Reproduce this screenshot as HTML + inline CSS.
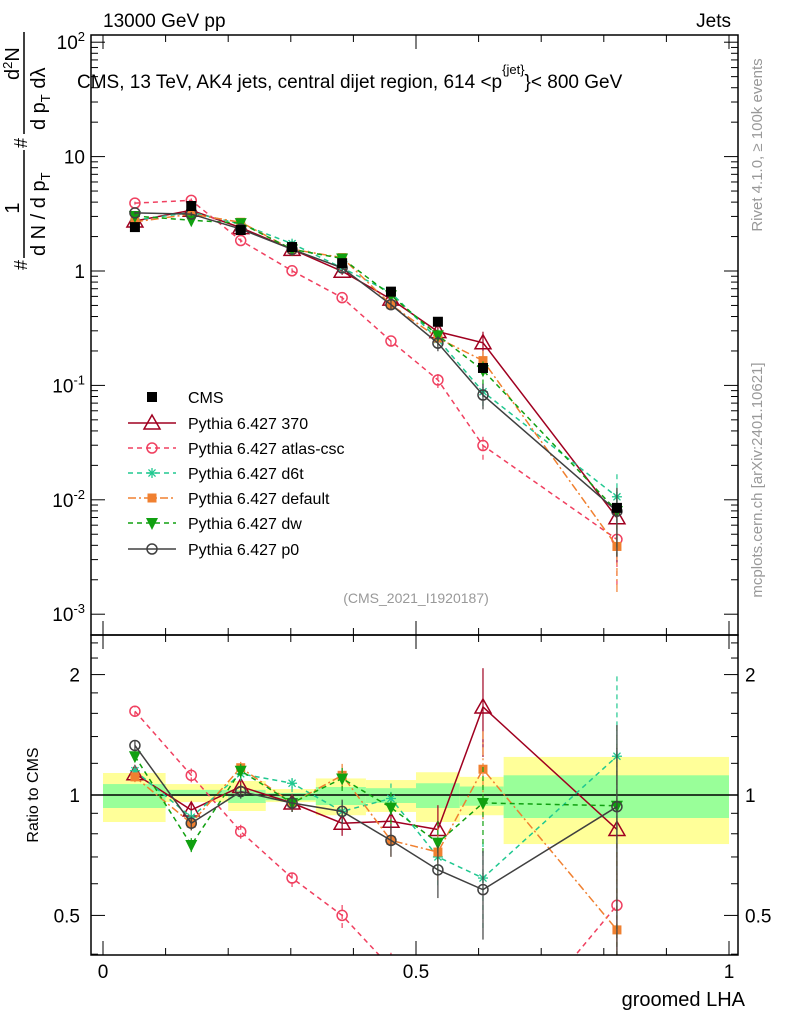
<!DOCTYPE html>
<html><head><meta charset="utf-8"><style>
body{margin:0;background:#fff;overflow:hidden;}
svg{font-family:"Liberation Sans",sans-serif;display:block;}
</style></head><body>
<svg id="c" width="786" height="1024" viewBox="0 0 786 1024" xmlns="http://www.w3.org/2000/svg"></svg>
<script>
const xs=[0.051,0.141,0.220,0.302,0.382,0.460,0.535,0.607,0.821];
const edges=[0,0.1,0.2,0.26,0.34,0.42,0.50,0.57,0.64,1.0];
const cms=[2.42,3.7,2.28,1.62,1.17,0.66,0.36,0.142,0.0085];
const yelHi=[1.135,1.065,1.084,1.035,1.10,1.09,1.14,1.11,1.245];
const yelLo=[0.856,0.96,0.912,0.96,0.89,0.907,0.856,0.89,0.754];
const grnHi=[1.065,1.03,1.03,1.012,1.047,1.04,1.07,1.05,1.12];
const grnLo=[0.928,0.994,0.955,0.97,0.944,0.955,0.928,0.94,0.876];
const r370=[1.13,0.917,1.05,0.955,0.85,0.86,0.82,1.66,0.82];
const rAtlas=[1.62,1.12,0.81,0.62,0.50,0.37,0.31,0.21,0.53];
const rD6t=[1.15,0.88,1.13,1.07,0.91,0.98,0.70,0.62,1.25];
const rDef=[1.11,0.85,1.17,0.955,1.12,0.77,0.72,1.16,0.46];
const rDw=[1.25,0.75,1.15,0.955,1.10,0.93,0.76,0.955,0.94];
const rP0=[1.33,0.85,1.02,0.955,0.91,0.77,0.65,0.58,0.935];
const relErr=[0.03,0.04,0.04,0.05,0.07,0.09,0.15,0.25,0.6];
const series=[
 {name:'Pythia 6.427 370',r:r370,col:'#a00020',dash:'',m:'tri'},
 {name:'Pythia 6.427 atlas-csc',r:rAtlas,col:'#f04060',dash:'5,4',m:'circ'},
 {name:'Pythia 6.427 d6t',r:rD6t,col:'#20c890',dash:'5,4',m:'star'},
 {name:'Pythia 6.427 default',r:rDef,col:'#f08030',dash:'8,3,2,3',m:'sq'},
 {name:'Pythia 6.427 dw',r:rDw,col:'#10a010',dash:'5,4',m:'dtri'},
 {name:'Pythia 6.427 p0',r:rP0,col:'#404040',dash:'',m:'circ'}
];
const NS='http://www.w3.org/2000/svg';
const svg=document.getElementById('c');
const X=v=>103+626*v;
const Y=v=>271-114.4*Math.log10(v);
const R=v=>795-400*Math.log10(v);
function el(t,a,p){const e=document.createElementNS(NS,t);for(const k in a)e.setAttribute(k,a[k]);(p||svg).appendChild(e);return e;}
function txt(x,y,s,a,p){const e=el('text',Object.assign({x:x,y:y},a||{}),p);e.textContent=s;return e;}
const clipM=el('clipPath',{id:'cm'});el('rect',{x:91,y:35,width:647,height:600},clipM);
const clipR=el('clipPath',{id:'cr'});el('rect',{x:91,y:635,width:647,height:320},clipR);
const gb=el('g',{'clip-path':'url(#cr)'});

for(let i=0;i<9;i++){
 const b=el('rect',{x:X(edges[i]),y:R(yelHi[i]),width:X(edges[i+1])-X(edges[i]),height:R(yelLo[i])-R(yelHi[i]),fill:'#ffff99'},gb);
 
 const g=el('rect',{x:X(edges[i]),y:R(grnHi[i]),width:X(edges[i+1])-X(edges[i]),height:R(grnLo[i])-R(grnHi[i]),fill:'#99ff99'},gb);
 
}
el('line',{x1:91,x2:738,y1:R(1),y2:R(1),stroke:'#000','stroke-width':1.5});
function marker(g,m,x,y,col){
 if(m==='tri')el('polygon',{points:`${x},${y-8} ${x-8},${y+6} ${x+8},${y+6}`,fill:'none',stroke:col,'stroke-width':1.5},g);
 else if(m==='dtri')el('polygon',{points:`${x},${y+7} ${x-6},${y-5} ${x+6},${y-5}`,fill:col},g);
 else if(m==='circ')el('circle',{cx:x,cy:y,r:5,fill:'none',stroke:col,'stroke-width':1.5},g);
 else if(m==='sq')el('rect',{x:x-4.5,y:y-4.5,width:9,height:9,fill:col},g);
 else if(m==='bsq')el('rect',{x:x-5,y:y-5,width:10,height:10,fill:col},g);
 else if(m==='star'){for(const a of [0,45,90,135]){const r=a*Math.PI/180;el('line',{x1:x-5*Math.cos(r),y1:y-5*Math.sin(r),x2:x+5*Math.cos(r),y2:y+5*Math.sin(r),stroke:col,'stroke-width':1.3},g);}}
}
series.forEach(s=>{
 const vals=s.r.map((r,i)=>r*cms[i]);
 const g=el('g',{'clip-path':'url(#cm)'});
 
 el('polyline',{points:xs.map((x,i)=>X(x)+','+Y(vals[i])).join(' '),fill:'none',stroke:s.col,'stroke-width':1.5,'stroke-dasharray':s.dash},g);
 xs.forEach((x,i)=>{const lo=vals[i]*(1-Math.min(relErr[i],0.85)),hi=vals[i]*(1+relErr[i]);
  el('line',{x1:X(x),x2:X(x),y1:Y(lo),y2:Y(hi),stroke:s.col,'stroke-width':1.2,'stroke-dasharray':s.dash},g);
  marker(g,s.m,X(x),Y(vals[i]),s.col);});
 const g2=el('g',{'clip-path':'url(#cr)'});
 
 el('polyline',{points:xs.map((x,i)=>X(x)+','+R(s.r[i])).join(' '),fill:'none',stroke:s.col,'stroke-width':1.5,'stroke-dasharray':s.dash},g2);
 xs.forEach((x,i)=>{const lo=s.r[i]*(1-Math.min(relErr[i],0.85)),hi=s.r[i]*(1+relErr[i]);
  el('line',{x1:X(x),x2:X(x),y1:R(lo),y2:R(hi),stroke:s.col,'stroke-width':1.2,'stroke-dasharray':s.dash},g2);
  marker(g2,s.m,X(x),R(s.r[i]),s.col);});
});
const gc=el('g',{'clip-path':'url(#cm)'});

xs.forEach((x,i)=>{el('line',{x1:X(x),x2:X(x),y1:Y(cms[i]*0.95),y2:Y(cms[i]*1.05),stroke:'#000'},gc);marker(gc,'bsq',X(x),Y(cms[i]),'#000');});
el('rect',{x:91,y:35,width:647,height:600,fill:'none',stroke:'#000','stroke-width':1.5});
el('rect',{x:91,y:635,width:647,height:320,fill:'none',stroke:'#000','stroke-width':1.5});
for(let k=0;k<=10;k++){const x=X(k/10),L=k%5===0?14:7;
 for(const yb of [635,955])el('line',{x1:x,x2:x,y1:yb,y2:yb-L,stroke:'#000'});
 el('line',{x1:x,x2:x,y1:35,y2:35+L,stroke:'#000'});el('line',{x1:x,x2:x,y1:635,y2:635+L,stroke:'#000'});}
[['0',0],['0.5',0.5],['1',1]].forEach(([t,v])=>txt(X(v),978,t,{'font-size':19,'text-anchor':'middle'}));
for(let d=-3;d<=2;d++){for(let m=1;m<10;m++){const v=m*Math.pow(10,d);if(v>130)continue;const y=Y(v);if(y<35)continue;const L=m===1?14:7;
 el('line',{x1:91,x2:91+L,y1:y,y2:y,stroke:'#000'});el('line',{x1:738,x2:738-L,y1:y,y2:y,stroke:'#000'});}}
const ylab=[['10',2,true],['10',1,false],['1',0,false],['10',-1,true],['10',-2,true],['10',-3,true]];
ylab.forEach(([b,e,sup])=>{const t=txt(85,Y(Math.pow(10,e))+7,'',{'font-size':19,'text-anchor':'end'});
 const s1=el('tspan',{},t);s1.textContent=b;if(sup){const s2=el('tspan',{dy:-8,'font-size':13},t);s2.textContent=String(e);}});
[0.4,0.5,0.6,0.7,0.8,0.9,1,1.2,1.4,1.6,1.8,2,2.2,2.4].forEach(v=>{const y=R(v),L=(v===0.5||v===1||v===2)?14:7;
 el('line',{x1:91,x2:91+L,y1:y,y2:y,stroke:'#000'});el('line',{x1:738,x2:738-L,y1:y,y2:y,stroke:'#000'});});
[['2',2],['1',1],['0.5',0.5]].forEach(([t,v])=>{txt(80,R(v)+7,t,{'font-size':19,'text-anchor':'end'});txt(745,R(v)+7,t,{'font-size':19});});
txt(103,27,'13000 GeV pp',{'font-size':19,});
txt(731,27,'Jets',{'font-size':19,'text-anchor':'end',});
const tt=txt(77,88,'CMS, 13 TeV, AK4 jets, central dijet region, 614 <p',{'font-size':19,});
const ts=el('tspan',{dy:-14,'font-size':13},tt);ts.textContent='{jet}';const ts2=el('tspan',{dy:14},tt);ts2.textContent='}< 800 GeV';
txt(416,603,'(CMS_2021_I1920187)',{'font-size':14,fill:'#999','text-anchor':'middle',});
txt(745,1006,'groomed LHA',{'font-size':20,'text-anchor':'end',});
txt(0,0,'Ratio to CMS',{'font-size':16,'text-anchor':'middle',transform:'translate(38,795) rotate(-90)',});
txt(0,0,'Rivet 4.1.0, \u2265 100k events',{'font-size':15,fill:'#999','text-anchor':'middle',transform:'translate(762,145) rotate(-90)',});
txt(0,0,'mcplots.cern.ch [arXiv:2401.10621]',{'font-size':15,fill:'#999','text-anchor':'middle',transform:'translate(762,480) rotate(-90)',});
// y-axis title (rotated frame: u = 270 - screenY, v = screenX)
const yt=el('g',{transform:'translate(0,270) rotate(-90)'});

txt(0,27,'#',{'font-size':18},yt);
el('line',{x1:12,x2:120,y1:24,y2:24,stroke:'#000','stroke-width':1.5},yt);
txt(62,19,'1',{'font-size':20,'text-anchor':'middle'},yt);
const d1=txt(14,45,'d N / d p',{'font-size':20},yt);
const d1s=el('tspan',{dy:5,'font-size':13},d1);d1s.textContent='T';
txt(122,27,'#',{'font-size':18},yt);
el('line',{x1:136,x2:238,y1:24,y2:24,stroke:'#000','stroke-width':1.5},yt);
const n2=txt(190,19,'d',{'font-size':20},yt);const n2s=el('tspan',{dy:-7,'font-size':13},n2);n2s.textContent='2';const n2b=el('tspan',{dy:7},n2);n2b.textContent='N';
const d2=txt(140,45,'d p',{'font-size':20},yt);
const d2s=el('tspan',{dy:5,'font-size':13},d2);d2s.textContent='T';const d2b=el('tspan',{dy:-5},d2);d2b.textContent=' d\u03bb';
const lg=el('g',{});
const ly=[397,423,448,473,498,523,549];
const le0=el('g',{},lg);
marker(le0,'bsq',152,ly[0],'#000');txt(188,ly[0]+6,'CMS',{'font-size':16},le0);
series.forEach((s,i)=>{const g=el('g',{},lg);
 el('line',{x1:128,x2:176,y1:ly[i+1],y2:ly[i+1],stroke:s.col,'stroke-width':1.5,'stroke-dasharray':s.dash},g);
 marker(g,s.m,152,ly[i+1],s.col);txt(188,ly[i+1]+6,s.name,{'font-size':16},g);});
</script>
</body></html>
